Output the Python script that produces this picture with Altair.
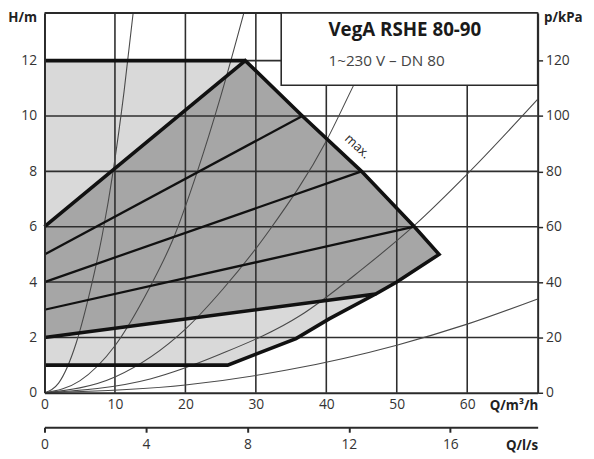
import altair as alt
import pandas as pd

FONT = "Open Sans"
INK = "#2a2a2a"

# ---- axes / scale extents ----
Q_MAX = 70.0
H_MAX = 13.72
Q_LABELS = [0, 10, 20, 30, 40, 50, 60]
H_LABELS = [0, 2, 4, 6, 8, 10, 12]
P_LABELS = [0, 20, 40, 60, 80, 100, 120]
QLS_LABELS = [0, 4, 8, 12, 16]
Q_GRID = [10, 20, 30, 40, 50, 60]
H_GRID = [2, 4, 6, 8, 10, 12]

# ---- operating field polygons (Q m3/h, H m) ----
LIGHT_Q = [0, 0, 28.5, 36.6, 45.0, 52.5, 56.0, 50.0, 47.0, 40.4, 35.7, 26.0, 0]
LIGHT_H = [1, 12, 12, 10.0, 8.0, 6.0, 5.0, 4.0, 3.57, 2.67, 1.96, 1.0, 1]
DARK_Q = [0, 0, 28.5, 36.6, 45.0, 52.5, 56.0, 50.0, 47.0, 0]
DARK_H = [2, 6, 12, 10.0, 8.0, 6.0, 5.0, 4.0, 3.57, 2]

# ---- thick boundary lines ----
TOP_Q = [0, 28.5]
TOP_H = [12, 12]
OUTLINE_Q = [0, 28.5, 36.6, 45.0, 52.5, 56.0, 50.0, 47.0, 0]
OUTLINE_H = [6, 12, 10.0, 8.0, 6.0, 5.0, 4.0, 3.57, 2]
LOWER_Q = [0, 26.0, 35.7, 40.4, 47.0]
LOWER_H = [1, 1.0, 1.96, 2.67, 3.57]

# ---- control lines ----
C1_Q = [0, 52.5]
C1_H = [3, 6.0]
C2_Q = [0, 45.0]
C2_H = [4, 8.0]
C3_Q = [0, 36.6]
C3_H = [5, 10.0]

# ---- system curves ----
S1_Q = [0, 2, 4.5, 6.4, 8.2, 9.8, 11.3, 12.8]
S1_H = [0, 0.35, 1.8, 3.6, 5.7, 8.1, 10.9, 14.2]
S2_Q = [0, 5, 10, 14.8, 18.2, 21.7, 25, 28.8]
S2_H = [0, 0.43, 1.7, 3.74, 5.52, 8.0, 10.7, 14.2]
S3_Q = [0, 10, 20, 25.3, 32, 40, 43.8, 49.5]
S3_H = [0, 0.57, 2.3, 3.74, 5.9, 9.1, 11.07, 14.0]
S4_Q = [0, 15, 25, 36.3, 45, 52.3, 60, 70]
S4_H = [0, 0.5, 1.4, 2.79, 4.45, 6.0, 7.9, 10.6]
S5_Q = [0, 20, 34.4, 50, 60, 70]
S5_H = [0, 0.28, 0.82, 1.72, 2.48, 3.39]

# ---- legend box ----
BOX_Q = [33.6, 70.0]
BOX_H = [11.11, H_MAX]
TITLE_TXT = "VegA RSHE 80-90"
SUB_TXT = "1~230 V – DN 80"
TEXT_POS = [40.3, 13.1, 12.0]
MAX_POS = [44.4, 8.9]


def path_df(name, qs, hs):
    return pd.DataFrame({"id": name, "i": list(range(len(qs))), "Q": qs, "H": hs})


xs = alt.Scale(domain=[0, Q_MAX], nice=False, zero=False)
ys = alt.Scale(domain=[0, H_MAX], nice=False, zero=False)

x_axis = alt.Axis(values=Q_LABELS, grid=False, ticks=False, domainColor=INK, domainWidth=2,
                  labelPadding=5, labelFlush=False, title="Q/m³/h", titleX=500, titleY=13,
                  titleAlign="right", titleBaseline="middle", titleAngle=0, zindex=1)
y_axis = alt.Axis(values=H_LABELS, grid=False, ticks=False, domainColor=INK, domainWidth=2,
                  labelPadding=8, title="H/m", titleAngle=0, titleX=-8, titleY=5,
                  titleAlign="right", titleBaseline="middle", zindex=1)

X = alt.X("Q:Q", scale=xs, axis=x_axis)
Y = alt.Y("H:Q", scale=ys, axis=y_axis)

light = alt.Chart(path_df("light", LIGHT_Q, LIGHT_H)).mark_line(
    fill="#d9d9d9", strokeWidth=0, interpolate="linear").encode(x=X, y=Y, order="i:Q")
dark = alt.Chart(path_df("dark", DARK_Q, DARK_H)).mark_line(
    fill="#a6a6a6", strokeWidth=0, interpolate="linear").encode(x=X, y=Y, order="i:Q")

vgrid_df = pd.DataFrame({"Q": Q_GRID, "H": [0] * len(Q_GRID), "H2": [H_MAX] * len(Q_GRID)})
hgrid_df = pd.DataFrame({"H": H_GRID, "Q": [0] * len(H_GRID), "Q2": [Q_MAX] * len(H_GRID)})
vgrid = alt.Chart(vgrid_df).mark_rule(color="#2e2e2e", strokeWidth=1.6).encode(x=X, y=Y, y2="H2:Q")
hgrid = alt.Chart(hgrid_df).mark_rule(color="#2e2e2e", strokeWidth=1.6).encode(y=Y, x=X, x2="Q2:Q")

sys_df = pd.concat([path_df("s1", S1_Q, S1_H), path_df("s2", S2_Q, S2_H), path_df("s3", S3_Q, S3_H),
                    path_df("s4", S4_Q, S4_H), path_df("s5", S5_Q, S5_H)])
sysc = alt.Chart(sys_df).mark_line(color="#4a4a4a", strokeWidth=1.1, interpolate="monotone", clip=True).encode(
    x=X, y=Y, detail="id:N", order="i:Q")

ctrl_df = pd.concat([path_df("c1", C1_Q, C1_H), path_df("c2", C2_Q, C2_H), path_df("c3", C3_Q, C3_H)])
ctrl = alt.Chart(ctrl_df).mark_line(color="#111", strokeWidth=2.3).encode(x=X, y=Y, detail="id:N", order="i:Q")

thick_df = pd.concat([path_df("top", TOP_Q, TOP_H), path_df("outline", OUTLINE_Q, OUTLINE_H),
                      path_df("lower", LOWER_Q, LOWER_H)])
thick = alt.Chart(thick_df).mark_line(color="#111", strokeWidth=3.6, strokeJoin="miter").encode(
    x=X, y=Y, detail="id:N", order="i:Q")

top_df = pd.DataFrame({"Q": [0], "Q2": [Q_MAX], "H": [H_MAX]})
top_border = alt.Chart(top_df).mark_rule(color=INK, strokeWidth=2).encode(x=X, x2="Q2:Q", y=Y)

box_df = pd.DataFrame({"Q": [BOX_Q[0]], "Q2": [BOX_Q[1]], "H": [BOX_H[0]], "H2": [BOX_H[1]]})
box = alt.Chart(box_df).mark_rect(fill="white", stroke=INK, strokeWidth=1.6).encode(
    x=X, x2="Q2:Q", y=Y, y2="H2:Q")

t1 = alt.Chart(pd.DataFrame({"Q": [TEXT_POS[0]], "H": [TEXT_POS[1]], "t": [TITLE_TXT]})).mark_text(
    align="left", baseline="middle", font=FONT, fontSize=19, fontWeight="bold", color="#1a1a1a").encode(
    x=X, y=Y, text="t:N")
t2 = alt.Chart(pd.DataFrame({"Q": [TEXT_POS[0]], "H": [TEXT_POS[2]], "t": [SUB_TXT]})).mark_text(
    align="left", baseline="middle", font=FONT, fontSize=15.5, color="#444").encode(
    x=X, y=Y, text="t:N")
tmax = alt.Chart(pd.DataFrame({"Q": [MAX_POS[0]], "H": [MAX_POS[1]], "t": ["max."]})).mark_text(
    align="center", baseline="middle", font=FONT, fontSize=13, angle=43, color="#222").encode(
    x=X, y=Y, text="t:N")

main = alt.layer(light, dark, vgrid, hgrid, sysc, ctrl, thick, top_border, box, t1, t2, tmax)

p_layer = alt.Chart(pd.DataFrame({"p": P_LABELS})).mark_rule(opacity=0).encode(
    y=alt.Y("p:Q", scale=alt.Scale(domain=[0, H_MAX * 10], nice=False, zero=False),
            axis=alt.Axis(orient="right", values=P_LABELS, grid=False, tickSize=5, tickWidth=1.5,
                          tickColor=INK, domainColor=INK, domainWidth=2, labelPadding=3,
                          title="p/kPa", titleAngle=0, titleX=6, titleY=5, titleAlign="left",
                          titleBaseline="middle", zindex=1)))

ls_layer = alt.Chart(pd.DataFrame({"qls": QLS_LABELS})).mark_rule(opacity=0).encode(
    x=alt.X("qls:Q", scale=alt.Scale(domain=[0, Q_MAX / 3.6], nice=False, zero=False),
            axis=alt.Axis(orient="bottom", offset=35, values=QLS_LABELS, grid=False, tickSize=5,
                          tickWidth=2, tickColor=INK, domainColor=INK, domainWidth=2, labelPadding=5,
                          labelFlush=False, title="Q/l/s", titleX=500, titleY=19, titleAlign="right",
                          titleBaseline="middle", titleAngle=0, zindex=1)))

chart = alt.layer(main, p_layer, ls_layer).resolve_scale(x="independent", y="independent").properties(
    width=500, height=385, autosize=alt.AutoSizeParams(type="none"),
    padding={"left": 37, "top": 2, "right": 49, "bottom": 62}, background="white"
).configure_view(stroke=None).configure_axis(
    labelFont=FONT, labelFontSize=14, labelColor="#333", titleFont=FONT, titleFontSize=13.5,
    titleFontWeight="bold", titleColor="#222")

chart.save("out.html", embed_options={"renderer": "svg", "actions": False})
